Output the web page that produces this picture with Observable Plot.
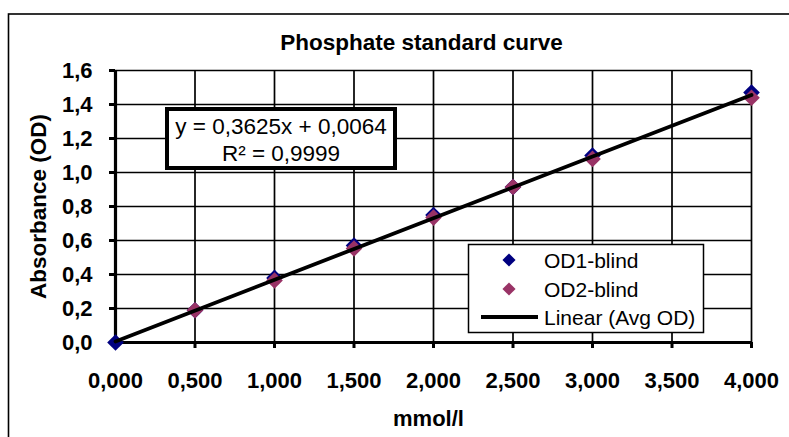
<!DOCTYPE html>
<html>
<head>
<meta charset="utf-8">
<script src="https://cdn.jsdelivr.net/npm/d3@7"></script>
<script src="https://cdn.jsdelivr.net/npm/@observablehq/plot@0.6"></script>
<style>
  html, body { margin: 0; padding: 0; background: #fff; }
  #chart { position: relative; width: 789px; height: 437px; overflow: hidden; }
  #chart svg { font-family: "Liberation Sans", Arial, sans-serif; }
</style>
</head>
<body>
<div id="chart"></div>
<script>
// ---- data ----
const concentrations = [0, 0.5, 1, 1.5, 2, 2.5, 3, 4];          // mmol/l
const od1Blind = [0.00, 0.19, 0.38, 0.57, 0.75, 0.915, 1.10, 1.47];
const od2Blind = [null, 0.19, 0.365, 0.553, 0.735, 0.915, 1.08, 1.44];
const fitSlope = 0.3625;
const fitIntercept = 0.0064;
const fitR2 = "0,9999";
const xTicks = [0, 0.5, 1, 1.5, 2, 2.5, 3, 3.5, 4];
const yTicks = [0, 0.2, 0.4, 0.6, 0.8, 1.0, 1.2, 1.4, 1.6];
const seriesNames = ["OD1-blind", "OD2-blind", "Linear (Avg OD)"];
const titleText = "Phosphate standard curve";
const xLabel = "mmol/l";
const yLabel = "Absorbance (OD)";

const navy = "#000080";
const maroon = "#993366";

const od1 = concentrations.map((x, i) => ({x, y: od1Blind[i]}));
const od2 = concentrations.map((x, i) => ({x, y: od2Blind[i]})).filter(d => d.y != null);
const xExt = d3.extent(concentrations);
const fit = xExt.map(x => ({x, y: fitSlope * x + fitIntercept}));

const comma = (d, n) => d.toFixed(n).replace(".", ",");

const plot = Plot.plot({
  width: 789,
  height: 437,
  marginLeft: 115,
  marginRight: 38,
  marginTop: 70,
  marginBottom: 95,
  style: {fontFamily: "'Liberation Sans', Arial, sans-serif", background: "#fff", overflow: "visible"},
  x: {domain: [0, 4]},
  y: {domain: [0, 1.6]},
  marks: [
    Plot.gridX(xTicks, {stroke: "#000", strokeOpacity: 1, strokeWidth: 1.7}),
    Plot.gridY(yTicks, {stroke: "#000", strokeOpacity: 1, strokeWidth: 1.7}),
    Plot.axisX(xTicks, {tickFormat: d => comma(d, 3), tickSize: 6, tickPadding: 24, strokeWidth: 3,
      fontSize: 22, fontWeight: "bold", fill: "#000", label: null}),
    Plot.axisY(yTicks, {tickFormat: d => comma(d, 1), tickSize: 6, tickPadding: 17, strokeWidth: 3,
      fontSize: 22, fontWeight: "bold", fill: "#000", label: null}),
    Plot.ruleX([0], {stroke: "#000", strokeWidth: 3.2}),
    Plot.ruleY([0], {stroke: "#000", strokeWidth: 3.2}),
    Plot.dot(od1, {x: "x", y: "y", symbol: "diamond2", fill: navy, stroke: "none", r: 7.5}),
    Plot.dot(od2, {x: "x", y: "y", symbol: "diamond2", fill: maroon, stroke: "none", r: 7.5}),
    Plot.line(fit, {x: "x", y: "y", stroke: "#000", strokeWidth: 3.8}),
    Plot.text([titleText], {frameAnchor: "top", dy: -28, dx: -12, lineAnchor: "middle", textAnchor: "middle",
      fontSize: 22.5, fontWeight: "bold", fill: "#000"}),
    Plot.text([xLabel], {frameAnchor: "bottom", dy: 76, dx: -5, lineAnchor: "middle", textAnchor: "middle",
      fontSize: 22, fontWeight: "bold", fill: "#000"}),
    Plot.text([yLabel], {frameAnchor: "left", dx: -77, dy: 0, rotate: -90, lineAnchor: "middle", textAnchor: "middle",
      fontSize: 22.5, fontWeight: "bold", fill: "#000"})
  ]
});

const svg = d3.select(plot);
svg.selectAll("g[aria-label='x-axis tick label'], g[aria-label='y-axis tick label']")
  .style("font-size", "22px").style("font-weight", "bold")
  .selectAll("text").style("font-size", "22px").style("font-weight", "bold");

// outer chart frame (only top & left edges visible in the crop)
svg.append("rect").attr("x", 8.5).attr("y", 14).attr("width", 900).attr("height", 600)
  .attr("fill", "none").attr("stroke", "#000").attr("stroke-width", 1.6);

// equation box
const eq = svg.append("g").attr("text-anchor", "middle");
eq.append("rect").attr("x", 167).attr("y", 109).attr("width", 228).attr("height", 59)
  .attr("fill", "#fff").attr("stroke", "#000").attr("stroke-width", 4);
eq.append("text").attr("x", 281).attr("y", 134).attr("text-anchor", "middle")
  .attr("font-size", 22.5).text(`y = ${comma(fitSlope, 4)}x + ${comma(fitIntercept, 4)}`);
eq.append("text").attr("x", 281).attr("y", 161).attr("text-anchor", "middle")
  .attr("font-size", 22.5).text(`R² = ${fitR2}`);

// legend
const lg = svg.append("g").attr("text-anchor", "start");
lg.append("rect").attr("x", 468.5).attr("y", 244.5).attr("width", 235).attr("height", 88)
  .attr("fill", "#fff").attr("stroke", "#000").attr("stroke-width", 1.5);
const diamond = d3.symbol(d3.symbolDiamond2, 110)();
[[navy, 260], [maroon, 289]].forEach(([c, y], i) => {
  lg.append("path").attr("d", diamond).attr("transform", `translate(509,${y})`).attr("fill", c);
  lg.append("text").attr("x", 544).attr("y", y + 7.5).attr("text-anchor", "start")
    .attr("font-size", 21).text(seriesNames[i]);
});
lg.append("line").attr("x1", 481).attr("x2", 538).attr("y1", 317).attr("y2", 317)
  .attr("stroke", "#000").attr("stroke-width", 4);
lg.append("text").attr("x", 544).attr("y", 324.5).attr("text-anchor", "start")
  .attr("font-size", 21).text(seriesNames[2]);

document.getElementById("chart").append(plot);
</script>
</body>
</html>
